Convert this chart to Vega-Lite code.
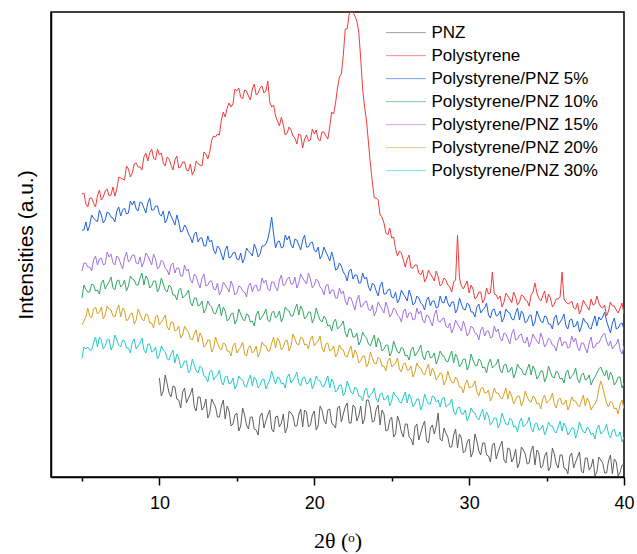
{
  "$schema": "https://vega.github.io/schema/vega-lite/v6.json",
  "width": 573,
  "height": 465,
  "autosize": {"type": "none"},
  "padding": {"left": 51, "top": 12, "right": 13, "bottom": 77},
  "config": {
    "view": {"stroke": "black", "strokeWidth": 1.5},
    "font": "Liberation Sans",
    "axis": {"grid": false}
  },
  "data": {
    "values": [
      {"x":5.00,"b":283,"c":247,"d":179,"e":206,"f":152,"g":119},
      {"x":5.25,"b":273,"c":255,"d":188,"e":214,"f":160,"g":128},
      {"x":5.50,"b":279,"c":252,"d":185,"e":210,"f":161,"g":127},
      {"x":5.75,"b":274,"c":259,"d":192,"e":217,"f":168,"g":134},
      {"x":6.00,"b":281,"c":255,"d":187,"e":212,"f":163,"g":130},
      {"x":6.25,"b":277,"c":262,"d":194,"e":219,"f":170,"g":137},
      {"x":6.50,"b":286,"c":257,"d":188,"e":213,"f":162,"g":131},
      {"x":6.75,"b":281,"c":264,"d":195,"e":220,"f":168,"g":138},
      {"x":7.00,"b":290,"c":259,"d":189,"e":214,"f":161,"g":131},
      {"x":7.25,"b":288,"c":266,"d":196,"e":221,"f":167,"g":137},
      {"x":7.50,"b":299,"c":261,"d":190,"e":213,"f":160,"g":130},
      {"x":7.75,"b":297,"c":269,"d":197,"e":219,"f":166,"g":136},
      {"x":8.00,"b":308,"c":264,"d":191,"e":215,"f":158,"g":129},
      {"x":8.25,"b":304,"c":272,"d":198,"e":222,"f":164,"g":135},
      {"x":8.50,"b":314,"c":268,"d":192,"e":214,"f":157,"g":128},
      {"x":8.75,"b":310,"c":275,"d":199,"e":220,"f":163,"g":134},
      {"x":9.00,"b":320,"c":269,"d":192,"e":215,"f":156,"g":127},
      {"x":9.25,"b":316,"c":274,"d":198,"e":221,"f":162,"g":133},
      {"x":9.50,"b":328,"c":267,"d":191,"e":212,"f":154,"g":125},
      {"x":9.75,"b":317,"c":271,"d":196,"e":218,"f":160,"g":130},
      {"x":10.00,"a":99,"b":322,"c":263,"d":189,"e":210,"f":152,"g":122},
      {"x":10.25,"a":86,"b":314,"c":266,"d":193,"e":215,"f":158,"g":127},
      {"x":10.50,"a":93,"b":320,"c":258,"d":185,"e":207,"f":150,"g":118},
      {"x":10.75,"a":80,"b":312,"c":261,"d":190,"e":212,"f":155,"g":123},
      {"x":11.00,"a":90,"b":317,"c":252,"d":182,"e":204,"f":146,"g":114},
      {"x":11.25,"a":77,"b":309,"c":255,"d":187,"e":209,"f":151,"g":119},
      {"x":11.50,"a":85,"b":315,"c":246,"d":179,"e":201,"f":142,"g":111},
      {"x":11.75,"a":74,"b":307,"c":249,"d":183,"e":206,"f":147,"g":116},
      {"x":12.00,"a":83,"b":313,"c":240,"d":175,"e":197,"f":138,"g":107},
      {"x":12.25,"a":70,"b":306,"c":243,"d":179,"e":203,"f":143,"g":112},
      {"x":12.50,"a":80,"b":313,"c":235,"d":171,"e":194,"f":135,"g":104},
      {"x":12.75,"a":67,"b":311,"c":239,"d":176,"e":199,"f":140,"g":109},
      {"x":13.00,"a":78,"b":323,"c":231,"d":168,"e":191,"f":132,"g":100},
      {"x":13.25,"a":64,"b":325,"c":235,"d":172,"e":196,"f":137,"g":105},
      {"x":13.50,"a":74,"b":341,"c":227,"d":164,"e":188,"f":129,"g":97},
      {"x":13.75,"a":60,"b":343,"c":231,"d":169,"e":194,"f":134,"g":102},
      {"x":14.00,"a":71,"b":357,"c":223,"d":161,"e":186,"f":127,"g":95},
      {"x":14.25,"a":58,"b":360,"c":227,"d":166,"e":192,"f":133,"g":100},
      {"x":14.50,"a":66,"b":374,"c":219,"d":158,"e":185,"f":126,"g":93},
      {"x":14.75,"a":53,"b":373,"c":224,"d":164,"e":191,"f":131,"g":99},
      {"x":15.00,"a":64,"b":386,"c":218,"d":157,"e":184,"f":124,"g":92},
      {"x":15.25,"a":51,"b":380,"c":224,"d":163,"e":190,"f":130,"g":98},
      {"x":15.50,"a":62,"b":387,"c":219,"d":156,"e":185,"f":123,"g":91},
      {"x":15.75,"a":48,"b":381,"c":226,"d":162,"e":191,"f":130,"g":97},
      {"x":16.00,"a":60,"b":388,"c":221,"d":156,"e":185,"f":124,"g":91},
      {"x":16.25,"a":47,"b":382,"c":228,"d":162,"e":192,"f":131,"g":97},
      {"x":16.50,"a":61,"b":389,"c":223,"d":157,"e":187,"f":125,"g":92},
      {"x":16.75,"a":49,"b":384,"c":231,"d":163,"e":194,"f":132,"g":98},
      {"x":17.00,"a":62,"b":396,"c":238,"d":157,"e":188,"f":126,"g":93},
      {"x":17.25,"a":48,"b":370,"c":260,"d":164,"e":195,"f":134,"g":106},
      {"x":17.50,"a":60,"b":361,"c":229,"d":159,"e":190,"f":129,"g":93},
      {"x":17.75,"a":50,"b":351,"c":236,"d":166,"e":197,"f":136,"g":99},
      {"x":18.00,"a":63,"b":352,"c":230,"d":160,"e":191,"f":130,"g":94},
      {"x":18.25,"a":49,"b":344,"c":237,"d":167,"e":198,"f":137,"g":100},
      {"x":18.50,"a":64,"b":347,"c":232,"d":161,"e":193,"f":131,"g":94},
      {"x":18.75,"a":51,"b":339,"c":238,"d":168,"e":200,"f":138,"g":100},
      {"x":19.00,"a":62,"b":343,"c":232,"d":162,"e":194,"f":132,"g":94},
      {"x":19.25,"a":50,"b":329,"c":237,"d":167,"e":199,"f":139,"g":99},
      {"x":19.50,"a":65,"b":342,"c":230,"d":160,"e":193,"f":133,"g":93},
      {"x":19.75,"a":52,"b":337,"c":234,"d":165,"e":198,"f":138,"g":99},
      {"x":20.00,"a":66,"b":343,"c":227,"d":159,"e":192,"f":131,"g":93},
      {"x":20.25,"a":51,"b":338,"c":230,"d":162,"e":196,"f":136,"g":97},
      {"x":20.50,"a":67,"b":345,"c":222,"d":155,"e":188,"f":129,"g":91},
      {"x":20.75,"a":53,"b":341,"c":225,"d":158,"e":191,"f":133,"g":96},
      {"x":21.00,"a":68,"b":350,"c":216,"d":152,"e":183,"f":126,"g":89},
      {"x":21.25,"a":52,"b":363,"c":218,"d":155,"e":187,"f":131,"g":94},
      {"x":21.50,"a":69,"b":389,"c":208,"d":148,"e":179,"f":124,"g":87},
      {"x":21.75,"a":55,"b":403,"c":211,"d":152,"e":183,"f":128,"g":92},
      {"x":22.00,"a":70,"b":448,"c":202,"d":144,"e":176,"f":121,"g":85},
      {"x":22.25,"a":54,"b":463,"c":206,"d":148,"e":180,"f":126,"g":90},
      {"x":22.50,"a":72,"b":465,"c":198,"d":140,"e":173,"f":119,"g":83},
      {"x":22.75,"a":56,"b":456,"c":202,"d":144,"e":177,"f":123,"g":88},
      {"x":23.00,"a":71,"b":418,"c":194,"d":136,"e":170,"f":116,"g":81},
      {"x":23.25,"a":58,"b":370,"c":198,"d":141,"e":175,"f":121,"g":86},
      {"x":23.50,"a":77,"b":334,"c":190,"d":133,"e":168,"f":114,"g":79},
      {"x":23.75,"a":55,"b":295,"c":194,"d":137,"e":172,"f":119,"g":84},
      {"x":24.00,"a":68,"b":279,"c":186,"d":130,"e":166,"f":113,"g":78},
      {"x":24.25,"a":52,"b":262,"c":191,"d":135,"e":171,"f":118,"g":83},
      {"x":24.50,"a":63,"b":254,"c":183,"d":128,"e":164,"f":111,"g":77},
      {"x":24.75,"a":47,"b":242,"c":187,"d":132,"e":169,"f":116,"g":82},
      {"x":25.00,"a":60,"b":239,"c":180,"d":125,"e":163,"f":110,"g":76},
      {"x":25.25,"a":43,"b":228,"c":185,"d":130,"e":167,"f":114,"g":81},
      {"x":25.50,"a":55,"b":226,"c":178,"d":124,"e":160,"f":108,"g":75},
      {"x":25.75,"a":40,"b":217,"c":183,"d":128,"e":165,"f":113,"g":80},
      {"x":26.00,"a":53,"b":218,"c":176,"d":122,"e":159,"f":107,"g":74},
      {"x":26.25,"a":38,"b":209,"c":181,"d":127,"e":164,"f":111,"g":79},
      {"x":26.50,"a":50,"b":212,"c":174,"d":121,"e":158,"f":105,"g":73},
      {"x":26.75,"a":37,"b":204,"c":179,"d":127,"e":163,"f":110,"g":78},
      {"x":27.00,"a":51,"b":207,"c":172,"d":121,"e":157,"f":104,"g":72},
      {"x":27.25,"a":36,"b":199,"c":177,"d":125,"e":162,"f":108,"g":77},
      {"x":27.50,"a":49,"b":203,"c":171,"d":119,"e":156,"f":101,"g":73},
      {"x":27.75,"a":43,"b":196,"c":176,"d":124,"e":162,"f":105,"g":80},
      {"x":28.00,"a":64,"b":200,"c":170,"d":118,"e":156,"f":100,"g":77},
      {"x":28.25,"a":36,"b":193,"c":175,"d":122,"e":158,"f":103,"g":78},
      {"x":28.50,"a":44,"b":197,"c":181,"d":116,"e":151,"f":96,"g":70},
      {"x":28.75,"a":30,"b":190,"c":170,"d":121,"e":154,"f":99,"g":73},
      {"x":29.00,"a":42,"b":195,"c":175,"d":114,"e":149,"f":94,"g":66},
      {"x":29.25,"a":29,"b":242,"c":168,"d":119,"e":153,"f":97,"g":69},
      {"x":29.50,"a":39,"b":191,"c":173,"d":113,"e":146,"f":90,"g":63},
      {"x":29.75,"a":26,"b":192,"c":167,"d":118,"e":150,"f":93,"g":67},
      {"x":30.00,"a":38,"b":184,"c":172,"d":112,"e":144,"f":89,"g":61},
      {"x":30.25,"a":25,"b":188,"c":165,"d":117,"e":149,"f":91,"g":65},
      {"x":30.50,"a":36,"b":180,"c":170,"d":111,"e":143,"f":85,"g":59},
      {"x":30.75,"a":22,"b":185,"c":164,"d":116,"e":147,"f":88,"g":63},
      {"x":31.00,"a":34,"b":178,"c":169,"d":110,"e":141,"f":84,"g":57},
      {"x":31.25,"a":21,"b":183,"c":162,"d":114,"e":146,"f":87,"g":61},
      {"x":31.50,"a":32,"b":205,"c":167,"d":109,"e":140,"f":81,"g":55},
      {"x":31.75,"a":18,"b":182,"c":161,"d":113,"e":145,"f":84,"g":59},
      {"x":32.00,"a":31,"b":181,"c":166,"d":107,"e":139,"f":80,"g":54},
      {"x":32.25,"a":17,"b":175,"c":159,"d":112,"e":144,"f":83,"g":58},
      {"x":32.50,"a":29,"b":181,"c":165,"d":105,"e":138,"f":78,"g":52},
      {"x":32.75,"a":15,"b":174,"c":158,"d":110,"e":143,"f":81,"g":57},
      {"x":33.00,"a":28,"b":180,"c":164,"d":104,"e":137,"f":77,"g":51},
      {"x":33.25,"a":14,"b":175,"c":157,"d":109,"e":142,"f":81,"g":55},
      {"x":33.50,"a":27,"b":181,"c":163,"d":103,"e":135,"f":76,"g":50},
      {"x":33.75,"a":13,"b":176,"c":156,"d":108,"e":140,"f":80,"g":54},
      {"x":34.00,"a":26,"b":182,"c":162,"d":102,"e":135,"f":75,"g":49},
      {"x":34.25,"a":12,"b":194,"c":155,"d":107,"e":139,"f":79,"g":53},
      {"x":34.50,"a":24,"b":179,"c":161,"d":101,"e":133,"f":74,"g":47},
      {"x":34.75,"a":11,"b":181,"c":154,"d":106,"e":138,"f":78,"g":52},
      {"x":35.00,"a":25,"b":174,"c":160,"d":100,"e":133,"f":74,"g":47},
      {"x":35.25,"a":10,"b":179,"c":153,"d":105,"e":137,"f":78,"g":51},
      {"x":35.50,"a":23,"b":173,"c":159,"d":99,"e":131,"f":73,"g":46},
      {"x":35.75,"a":9,"b":178,"c":152,"d":104,"e":136,"f":77,"g":50},
      {"x":36.00,"a":22,"b":205,"c":158,"d":99,"e":131,"f":73,"g":46},
      {"x":36.25,"a":8,"b":175,"c":151,"d":104,"e":135,"f":77,"g":50},
      {"x":36.50,"a":21,"b":174,"c":157,"d":98,"e":130,"f":72,"g":45},
      {"x":36.75,"a":9,"b":169,"c":150,"d":103,"e":135,"f":76,"g":49},
      {"x":37.00,"a":20,"b":174,"c":156,"d":98,"e":130,"f":72,"g":45},
      {"x":37.25,"a":6,"b":168,"c":150,"d":102,"e":134,"f":76,"g":49},
      {"x":37.50,"a":19,"b":173,"c":155,"d":97,"e":129,"f":71,"g":44},
      {"x":37.75,"a":7,"b":167,"c":149,"d":102,"e":134,"f":75,"g":48},
      {"x":38.00,"a":18,"b":172,"c":155,"d":97,"e":129,"f":71,"g":44},
      {"x":38.25,"a":5,"b":181,"c":151,"d":104,"e":134,"f":77,"g":48},
      {"x":38.50,"a":17,"b":170,"c":157,"d":110,"e":138,"f":96,"g":43},
      {"x":38.75,"a":4,"b":172,"c":165,"d":101,"e":144,"f":81,"g":47},
      {"x":39.00,"a":16,"b":166,"c":150,"d":97,"e":131,"f":70,"g":43},
      {"x":39.25,"a":3,"b":171,"c":154,"d":101,"e":128,"f":74,"g":46},
      {"x":39.50,"a":15,"b":167,"c":148,"d":95,"e":133,"f":69,"g":41},
      {"x":39.75,"a":5,"b":169,"c":153,"d":100,"e":127,"f":73,"g":45},
      {"x":40.00,"a":12,"b":163,"c":147,"d":94,"e":131,"f":68,"g":40},
      {"x":5.125,"b":284,"c":247,"d":192,"e":214,"f":156,"g":130},
      {"x":5.375,"b":270,"c":246,"d":185,"e":210,"f":169,"g":130},
      {"x":5.625,"b":279,"c":262,"d":193,"e":206,"f":159,"g":127},
      {"x":5.875,"b":270,"c":257,"d":186,"e":221,"f":170,"g":140},
      {"x":6.125,"b":287,"c":267,"d":183,"e":218,"f":165,"g":140},
      {"x":6.375,"b":280,"c":254,"d":197,"e":212,"f":158,"g":128},
      {"x":6.625,"b":288,"c":265,"d":192,"e":225,"f":171,"g":137},
      {"x":6.875,"b":282,"c":260,"d":200,"e":223,"f":167,"g":127},
      {"x":7.125,"b":281,"c":255,"d":187,"e":212,"f":160,"g":142},
      {"x":7.375,"b":300,"c":270,"d":197,"e":219,"f":172,"g":132},
      {"x":7.625,"b":298,"c":267,"d":192,"e":208,"f":169,"g":137},
      {"x":7.875,"b":311,"c":263,"d":186,"e":225,"f":156,"g":129},
      {"x":8.125,"b":300,"c":276,"d":201,"e":217,"f":163,"g":124},
      {"x":8.375,"b":313,"c":276,"d":197,"e":222,"f":153,"g":138},
      {"x":8.625,"b":310,"c":266,"d":192,"e":213,"f":168,"g":131},
      {"x":8.875,"b":307,"c":274,"d":204,"e":210,"f":158,"g":139},
      {"x":9.125,"b":324,"c":264,"d":201,"e":224,"f":163,"g":124},
      {"x":9.375,"b":324,"c":279,"d":189,"e":217,"f":154,"g":133},
      {"x":9.625,"b":319,"c":267,"d":196,"e":223,"f":149,"g":126},
      {"x":9.875,"b":328,"c":271,"d":185,"e":208,"f":162,"g":118},
      {"x":10.125,"a":81,"b":324,"c":261,"d":199,"e":217,"f":155,"g":131},
      {"x":10.375,"a":102,"b":311,"c":254,"d":187,"e":209,"f":162,"g":125},
      {"x":10.625,"a":84,"b":318,"c":266,"d":192,"e":202,"f":147,"g":117},
      {"x":10.875,"a":91,"b":307,"c":257,"d":182,"e":214,"f":155,"g":127},
      {"x":11.125,"a":78,"b":321,"c":262,"d":177,"e":209,"f":147,"g":123},
      {"x":11.375,"a":69,"b":310,"c":245,"d":189,"e":201,"f":139,"g":109},
      {"x":11.625,"a":89,"b":315,"c":252,"d":181,"e":212,"f":151,"g":116},
      {"x":11.875,"a":79,"b":306,"c":243,"d":187,"e":208,"f":145,"g":104},
      {"x":12.125,"a":89,"b":302,"c":234,"d":171,"e":194,"f":137,"g":118},
      {"x":12.375,"a":66,"b":316,"c":245,"d":179,"e":201,"f":147,"g":106},
      {"x":12.625,"a":80,"b":312,"c":239,"d":172,"e":189,"f":144,"g":111},
      {"x":12.875,"a":70,"b":325,"c":231,"d":164,"e":203,"f":130,"g":101},
      {"x":13.125,"a":59,"b":318,"c":241,"d":176,"e":192,"f":137,"g":95},
      {"x":13.375,"a":78,"b":337,"c":237,"d":170,"e":196,"f":125,"g":107},
      {"x":13.625,"a":70,"b":340,"c":223,"d":163,"e":187,"f":140,"g":100},
      {"x":13.875,"a":60,"b":342,"c":229,"d":173,"e":182,"f":129,"g":107},
      {"x":14.125,"a":77,"b":365,"c":217,"d":170,"e":195,"f":134,"g":92},
      {"x":14.375,"a":71,"b":369,"c":231,"d":156,"e":189,"f":126,"g":101},
      {"x":14.625,"a":51,"b":370,"c":220,"d":163,"e":196,"f":121,"g":94},
      {"x":14.875,"a":62,"b":388,"c":225,"d":153,"e":182,"f":134,"g":88},
      {"x":15.125,"a":46,"b":389,"c":217,"d":168,"e":191,"f":127,"g":101},
      {"x":15.375,"a":69,"b":378,"c":214,"d":158,"e":186,"f":135,"g":97},
      {"x":15.625,"a":52,"b":386,"c":229,"d":163,"e":180,"f":121,"g":90},
      {"x":15.875,"a":60,"b":377,"c":224,"d":155,"e":194,"f":131,"g":102},
      {"x":16.125,"a":48,"b":393,"c":233,"d":151,"e":191,"f":126,"g":100},
      {"x":16.375,"a":42,"b":384,"c":220,"d":166,"e":186,"f":120,"g":89},
      {"x":16.625,"a":64,"b":391,"c":231,"d":160,"e":199,"f":135,"g":97},
      {"x":16.875,"a":56,"b":386,"c":233,"d":168,"e":197,"f":131,"g":88},
      {"x":17.125,"a":67,"b":375,"c":247,"d":155,"e":186,"f":126,"g":97},
      {"x":17.375,"a":45,"b":372,"c":243,"d":166,"e":195,"f":140,"g":99},
      {"x":17.625,"a":61,"b":356,"c":235,"d":161,"e":186,"f":139,"g":100},
      {"x":17.875,"a":54,"b":360,"c":229,"d":155,"e":202,"f":127,"g":93},
      {"x":18.125,"a":44,"b":342,"c":242,"d":170,"e":193,"f":136,"g":89},
      {"x":18.375,"a":66,"b":350,"c":241,"d":166,"e":200,"f":126,"g":103},
      {"x":18.625,"a":61,"b":341,"c":229,"d":161,"e":193,"f":143,"g":97},
      {"x":18.875,"a":51,"b":333,"c":237,"d":173,"e":189,"f":133,"g":105},
      {"x":19.125,"a":68,"b":342,"c":227,"d":171,"e":203,"f":140,"g":91},
      {"x":19.375,"a":67,"b":338,"c":242,"d":158,"e":196,"f":132,"g":100},
      {"x":19.625,"a":50,"b":336,"c":230,"d":165,"e":204,"f":128,"g":94},
      {"x":19.875,"a":62,"b":348,"c":235,"d":154,"e":189,"f":141,"g":88},
      {"x":20.125,"a":47,"b":347,"c":225,"d":169,"e":198,"f":134,"g":101},
      {"x":20.375,"a":71,"b":336,"c":218,"d":157,"e":190,"f":141,"g":96},
      {"x":20.625,"a":57,"b":345,"c":230,"d":161,"e":182,"f":125,"g":90},
      {"x":20.875,"a":67,"b":338,"c":221,"d":151,"e":193,"f":134,"g":101},
      {"x":21.125,"a":54,"b":365,"c":225,"d":146,"e":187,"f":127,"g":98},
      {"x":21.375,"a":49,"b":374,"c":207,"d":158,"e":179,"f":120,"g":85},
      {"x":21.625,"a":71,"b":400,"c":214,"d":150,"e":189,"f":132,"g":92},
      {"x":21.875,"a":63,"b":422,"c":205,"d":156,"e":186,"f":127,"g":81},
      {"x":22.125,"a":74,"b":448,"c":196,"d":140,"e":172,"f":120,"g":96},
      {"x":22.375,"a":54,"b":465,"c":208,"d":148,"e":179,"f":131,"g":85},
      {"x":22.625,"a":70,"b":461,"c":202,"d":140,"e":167,"f":127,"g":90},
      {"x":22.875,"a":61,"b":445,"c":194,"d":132,"e":182,"f":114,"g":81},
      {"x":23.125,"a":53,"b":388,"c":204,"d":145,"e":171,"f":121,"g":76},
      {"x":23.375,"a":77,"b":356,"c":200,"d":139,"e":176,"f":110,"g":89},
      {"x":23.625,"a":69,"b":313,"c":186,"d":131,"e":166,"f":125,"g":82},
      {"x":23.875,"a":56,"b":279,"c":192,"d":142,"e":161,"f":114,"g":89},
      {"x":24.125,"a":72,"b":277,"c":181,"d":139,"e":175,"f":120,"g":75},
      {"x":24.375,"a":67,"b":260,"c":195,"d":126,"e":168,"f":111,"g":84},
      {"x":24.625,"a":46,"b":244,"c":183,"d":132,"e":175,"f":106,"g":78},
      {"x":24.875,"a":57,"b":249,"c":188,"d":121,"e":160,"f":119,"g":71},
      {"x":25.125,"a":40,"b":240,"c":179,"d":136,"e":169,"f":112,"g":85},
      {"x":25.375,"a":61,"b":221,"c":174,"d":125,"e":162,"f":119,"g":80},
      {"x":25.625,"a":45,"b":224,"c":187,"d":130,"e":155,"f":105,"g":74},
      {"x":25.875,"a":53,"b":210,"c":180,"d":121,"e":168,"f":114,"g":85},
      {"x":26.125,"a":40,"b":222,"c":187,"d":117,"e":164,"f":107,"g":83},
      {"x":26.375,"a":32,"b":209,"c":172,"d":130,"e":157,"f":100,"g":70},
      {"x":26.625,"a":53,"b":212,"c":181,"d":124,"e":169,"f":114,"g":78},
      {"x":26.875,"a":44,"b":202,"c":174,"d":132,"e":166,"f":109,"g":67},
      {"x":27.125,"a":56,"b":195,"c":167,"d":117,"e":154,"f":102,"g":83},
      {"x":27.375,"a":34,"b":207,"c":180,"d":126,"e":161,"f":113,"g":73},
      {"x":27.625,"a":52,"b":200,"c":176,"d":120,"e":151,"f":109,"g":81},
      {"x":27.875,"a":51,"b":206,"c":169,"d":113,"e":167,"f":97,"g":75},
      {"x":28.125,"a":38,"b":191,"c":181,"d":126,"e":155,"f":104,"g":70},
      {"x":28.375,"a":49,"b":199,"c":174,"d":121,"e":159,"f":92,"g":80},
      {"x":28.625,"a":40,"b":192,"c":174,"d":115,"e":149,"f":106,"g":72},
      {"x":28.875,"a":30,"b":185,"c":175,"d":126,"e":144,"f":95,"g":78},
      {"x":29.125,"a":48,"b":197,"c":164,"d":123,"e":157,"f":100,"g":62},
      {"x":29.375,"a":43,"b":199,"c":179,"d":110,"e":150,"f":90,"g":70},
      {"x":29.625,"a":24,"b":188,"c":168,"d":118,"e":156,"f":84,"g":63},
      {"x":29.875,"a":35,"b":196,"c":174,"d":107,"e":141,"f":97,"g":56},
      {"x":30.125,"a":20,"b":192,"c":165,"d":123,"e":151,"f":90,"g":69},
      {"x":30.375,"a":43,"b":178,"c":160,"d":112,"e":144,"f":96,"g":64},
      {"x":30.625,"a":26,"b":185,"c":173,"d":118,"e":137,"f":81,"g":57},
      {"x":30.875,"a":34,"b":174,"c":167,"d":109,"e":150,"f":90,"g":68},
      {"x":31.125,"a":22,"b":189,"c":174,"d":104,"e":146,"f":84,"g":65},
      {"x":31.375,"a":15,"b":184,"c":159,"d":118,"e":139,"f":76,"g":52},
      {"x":31.625,"a":34,"b":183,"c":168,"d":111,"e":151,"f":89,"g":59},
      {"x":31.875,"a":25,"b":178,"c":162,"d":118,"e":148,"f":84,"g":49},
      {"x":32.125,"a":36,"b":170,"c":155,"d":104,"e":136,"f":78,"g":64},
      {"x":32.375,"a":14,"b":184,"c":168,"d":113,"e":143,"f":89,"g":53},
      {"x":32.625,"a":28,"b":178,"c":164,"d":106,"e":133,"f":86,"g":59},
      {"x":32.875,"a":19,"b":185,"c":157,"d":99,"e":148,"f":73,"g":50},
      {"x":33.125,"a":9,"b":172,"c":169,"d":113,"e":138,"f":81,"g":45},
      {"x":33.375,"a":30,"b":182,"c":166,"d":108,"e":143,"f":71,"g":59},
      {"x":33.625,"a":23,"b":177,"c":154,"d":102,"e":134,"f":86,"g":52},
      {"x":33.875,"a":14,"b":171,"c":161,"d":113,"e":130,"f":76,"g":60},
      {"x":34.125,"a":31,"b":185,"c":151,"d":111,"e":143,"f":81,"g":45},
      {"x":34.375,"a":27,"b":184,"c":166,"d":98,"e":136,"f":73,"g":54},
      {"x":34.625,"a":9,"b":176,"c":156,"d":106,"e":144,"f":68,"g":48},
      {"x":34.875,"a":21,"b":186,"c":161,"d":95,"e":130,"f":82,"g":42},
      {"x":35.125,"a":6,"b":183,"c":153,"d":111,"e":139,"f":76,"g":55},
      {"x":35.375,"a":29,"b":170,"c":148,"d":100,"e":132,"f":84,"g":51},
      {"x":35.625,"a":13,"b":178,"c":162,"d":106,"e":126,"f":69,"g":44},
      {"x":35.875,"a":22,"b":180,"c":155,"d":98,"e":140,"f":79,"g":56},
      {"x":36.125,"a":9,"b":178,"c":163,"d":94,"e":135,"f":73,"g":54},
      {"x":36.375,"a":3,"b":173,"c":148,"d":107,"e":129,"f":67,"g":42},
      {"x":36.625,"a":24,"b":176,"c":158,"d":101,"e":141,"f":80,"g":49},
      {"x":36.875,"a":15,"b":168,"c":151,"d":109,"e":139,"f":76,"g":39},
      {"x":37.125,"a":25,"b":163,"c":145,"d":94,"e":126,"f":70,"g":55},
      {"x":37.375,"a":4,"b":177,"c":159,"d":104,"e":134,"f":82,"g":45},
      {"x":37.625,"a":19,"b":170,"c":154,"d":98,"e":124,"f":79,"g":50},
      {"x":37.875,"a":10,"b":178,"c":148,"d":92,"e":140,"f":67,"g":42},
      {"x":38.125,"a":1,"b":173,"c":161,"d":100,"e":130,"f":73,"g":38},
      {"x":38.375,"a":20,"b":174,"c":160,"d":108,"e":134,"f":88,"g":52},
      {"x":38.625,"a":14,"b":169,"c":160,"d":105,"e":142,"f":90,"g":45},
      {"x":38.875,"a":4,"b":161,"c":156,"d":107,"e":136,"f":74,"g":53},
      {"x":39.125,"a":22,"b":175,"c":144,"d":105,"e":136,"f":76,"g":39},
      {"x":39.375,"a":18,"b":171,"c":159,"d":92,"e":131,"f":68,"g":48},
      {"x":39.625,"a":1,"b":164,"c":149,"d":100,"e":138,"f":63,"g":41},
      {"x":39.875,"a":12,"b":174,"c":154,"d":89,"e":123,"f":77,"g":35}
    ]
  },
  "transform": [
    {"fold": ["a", "b", "c", "d", "e", "f", "g"], "as": ["s", "v"]},
    {"filter": "isValid(datum.v)"}
  ],
  "mark": {"type": "line", "strokeWidth": 1, "clip": true},
  "encoding": {
    "order": {"field": "x", "type": "quantitative"},
    "x": {
      "field": "x",
      "type": "quantitative",
      "scale": {"domain": [3, 40], "nice": false, "zero": false},
      "axis": {
        "values": [5, 10, 15, 20, 25, 30, 35, 40],
        "labelExpr": "datum.value % 10 == 0 ? datum.label : ''",
        "title": "2θ (ᵒ)",
        "titleFont": "Liberation Serif",
        "titleFontSize": 22,
        "titleFontWeight": "normal",
        "titleColor": "black",
        "titlePadding": 18,
        "labelFont": "Liberation Sans",
        "labelFontSize": 18,
        "labelColor": "black",
        "labelPadding": 9,
        "labelFlush": false,
        "tickColor": "black",
        "tickWidth": 1.5,
        "tickSize": {"condition": {"test": "datum.value % 10 == 0", "value": 8}, "value": 4},
        "domainColor": "black",
        "domainWidth": 1.5
      }
    },
    "y": {
      "field": "v",
      "type": "quantitative",
      "scale": {"domain": [0, 465], "nice": false, "zero": false},
      "axis": {
        "title": "Intensities (a.u.)",
        "labels": false,
        "ticks": false,
        "domainColor": "black",
        "domainWidth": 1.5,
        "titleFont": "Liberation Sans",
        "titleFontSize": 21,
        "titleFontWeight": "normal",
        "titleColor": "black",
        "titlePadding": 15
      }
    },
    "color": {
      "field": "s",
      "type": "nominal",
      "scale": {
        "domain": ["a", "b", "c", "d", "e", "f", "g"],
        "range": ["#5f5f5f", "#f23c3c", "#1f63e0", "#33a866", "#a372e2", "#d6a222", "#22cccc"]
      },
      "legend": {
        "orient": "none",
        "legendX": 334.5,
        "legendY": 9.3,
        "title": null,
        "padding": 0,
        "symbolType": "stroke",
        "symbolSize": 1600,
        "symbolStrokeWidth": 1,
        "symbolOpacity": 0.6,
        "clipHeight": 22.7,
        "rowPadding": 0,
        "labelOffset": 5,
        "labelFont": "Liberation Sans",
        "labelFontSize": 17,
        "labelColor": "black",
        "labelLimit": 300,
        "labelExpr": "datum.value == 'a' ? 'PNZ' : datum.value == 'b' ? 'Polystyrene' : datum.value == 'c' ? 'Polystyrene/PNZ 5%' : datum.value == 'd' ? 'Polystyrene/PNZ 10%' : datum.value == 'e' ? 'Polystyrene/PNZ 15%' : datum.value == 'f' ? 'Polystyrene/PNZ 20%' : 'Polystyrene/PNZ 30%'"
      }
    }
  }
}
